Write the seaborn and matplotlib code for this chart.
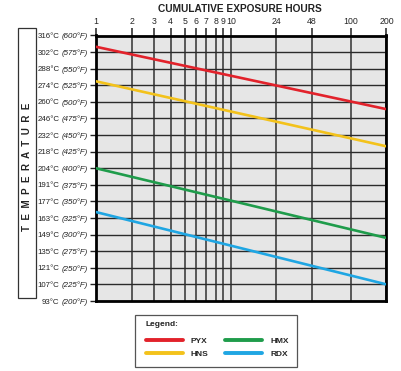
import numpy as np
import pandas as pd
import matplotlib
matplotlib.use("Agg")
import matplotlib.pyplot as plt
import matplotlib.transforms as mtransforms
from matplotlib.lines import Line2D
from matplotlib.patches import Rectangle
import seaborn as sns

# ---------------- data ----------------
hours = [1, 200]
pyx = [583, 489]
hns = [531, 433]
hmx = [400, 295]
rdx = [334, 225]
series_names = ["PYX", "HNS", "HMX", "RDX"]
x_ticks = [1, 2, 3, 4, 5, 6, 7, 8, 9, 10, 24, 48, 100, 200]
y_ticks_f = [600, 575, 550, 525, 500, 475, 450, 425, 400, 375, 350, 325, 300, 275, 250, 225, 200]
y_labels_c = [316, 302, 288, 274, 260, 246, 232, 218, 204, 191, 177, 163, 149, 135, 121, 107, 93]

palette = {"PYX": "#e2222b", "HNS": "#f3c21b", "HMX": "#1f9c4b", "RDX": "#1fa6e3"}

df = pd.DataFrame({
    "hours": hours * 4,
    "temp": pyx + hns + hmx + rdx,
    "explosive": sum([[n] * len(hours) for n in series_names], []),
})

# ---------------- custom (hand-drawn) hour scale ----------------
tick_px = np.array([96, 132, 154, 170.7, 185, 195.6, 206, 215.8, 223.5, 231, 276, 312, 350.8, 386.5])
F = (tick_px - tick_px[0]) / (tick_px[-1] - tick_px[0])
L = np.log10(np.array(x_ticks, float))
s0 = (F[1] - F[0]) / (L[1] - L[0])
s1 = (F[-1] - F[-2]) / (L[-1] - L[-2])
L = np.concatenate([[L[0] - 20], L, [L[-1] + 20]])
F = np.concatenate([[F[0] - 20 * s0], F, [F[-1] + 20 * s1]])

def fwd(x):
    x = np.asarray(x, float)
    return np.interp(np.log10(np.clip(x, 1e-300, None)), L, F)

def inv(y):
    return 10 ** np.interp(np.asarray(y, float), F, L)

# ---------------- figure ----------------
sns.set_style("white")
narrow = ["Liberation Sans Narrow", "Liberation Sans", "DejaVu Sans"]
plt.rcParams["font.family"] = ["Liberation Sans", "DejaVu Sans"]

W, H = 402, 371
fig = plt.figure(figsize=(W / 100, H / 100), dpi=100)
ax = fig.add_axes([96 / W, 1 - 301 / H, (386.5 - 96) / W, (301 - 35.5) / H])
ax.set_facecolor("#e6e6e6")
ax.set_xscale("function", functions=(fwd, inv))

sns.lineplot(data=df, x="hours", y="temp", hue="explosive", palette=palette,
             linewidth=1.9, legend=False, ax=ax, zorder=3)

ax.set_xlim(1, 200)
ax.set_ylim(200, 600)
ax.set_xticks(x_ticks)
ax.set_xticklabels([str(v) for v in x_ticks], fontfamily=narrow, fontsize=6.3)
ax.xaxis.set_minor_locator(matplotlib.ticker.NullLocator())
ax.set_yticks(y_ticks_f)
ax.set_yticklabels([])
ax.set_xlabel("")
ax.set_ylabel("")

ax.xaxis.tick_top()
ax.tick_params(axis="x", top=True, bottom=False, labeltop=True, labelbottom=False,
               length=5.5, width=1.1, pad=1.5, color="#222222")
ax.tick_params(axis="y", left=True, right=False, labelleft=False, length=4.5, width=1.0,
               color="#222222")

ax.set_axisbelow(True)
ax.xaxis.grid(True, color="#4d4d4d", linewidth=1.3)
ax.yaxis.grid(True, color="#2b2b2b", linewidth=1.0)
for sp in ax.spines.values():
    sp.set_visible(True)
    sp.set_color("black")
    sp.set_linewidth(2.0)

# y tick labels: "316°C (600°F)" with italic Fahrenheit part
trans = mtransforms.offset_copy(ax.get_yaxis_transform(), fig=fig, x=-8, y=0, units="dots")
for f, c in zip(y_ticks_f, y_labels_c):
    t = ax.text(0, f, f"({f}°F)", transform=trans, ha="right", va="center_baseline",
                fontsize=5.7, style="italic", family=narrow, color="#222222")
    ax.annotate(f"{c}°C", xy=(0, f), xycoords=(t, trans), xytext=(-1.6, 0),
                textcoords="offset points", ha="right", va="center_baseline",
                fontsize=5.7, family=narrow, color="#222222", annotation_clip=False)

# title
fig.text(240 / W, 1 - 9 / H, "CUMULATIVE EXPOSURE HOURS", ha="center", va="center",
         fontsize=7.3, fontweight="bold", color="#222222")

# vertical axis label in box
fig.add_artist(Rectangle((18.5 / W, 1 - 298 / H), 17 / W, 270 / H, transform=fig.transFigure,
                         fill=False, edgecolor="#333333", linewidth=0.9))
fig.text(27.5 / W, 1 - 167 / H, "T  E  M  P  E  R  A  T  U  R  E", rotation=90,
         ha="center", va="center", fontsize=7.0, fontweight="bold", color="#222222")

# legend
fig.add_artist(Rectangle((135 / W, 1 - 367 / H), (297 - 135) / W, (367 - 315) / H,
                         transform=fig.transFigure, fill=False, edgecolor="#555555",
                         linewidth=0.9))
fig.text(146 / W, 1 - 325 / H, "Legend:", ha="left", va="center", fontsize=6,
         fontweight="bold", color="#222222")
handles = [Line2D([0], [0], color=palette[n], linewidth=2.8) for n in series_names]
leg = fig.legend(handles, series_names, ncol=2, loc="upper left",
                 bbox_to_anchor=(146 / W, 1 - 337.5 / H), frameon=False,
                 borderpad=0, borderaxespad=0, handlelength=4.4,
                 handletextpad=1.0, columnspacing=2.0, labelspacing=0.58,
                 prop=dict(weight="bold", size=6))

fig.savefig("out.png", dpi=100)
